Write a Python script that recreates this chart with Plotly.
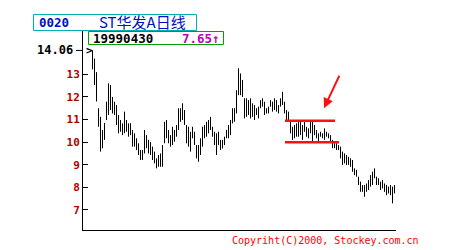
import plotly.graph_objects as go

# ---- data ----
highs = [14.07, 13.7, 13.1, 11.5, 11.12, 10.54, 10.85, 11.79, 12.6, 12.53, 12.0, 11.79, 11.64, 11.2, 10.98, 10.83, 11.35, 10.98, 10.83, 10.84,
         10.54, 10.39, 10.17, 9.95, 9.65, 9.65, 10.54, 10.31, 10.1, 10.0, 9.8, 9.58, 9.28, 9.43, 9.5, 9.87,
         10.9, 10.98, 10.54, 10.31, 10.68, 10.54, 10.76, 11.5, 11.5, 11.72, 11.42, 10.76, 10.68, 10.46, 10.68, 10.46, 9.87, 9.87, 10.17, 10.68,
         10.76, 10.9, 10.98, 11.12, 10.68, 10.46, 10.39, 10.46, 10.1, 10.1, 10.24, 10.54, 10.76, 10.98, 11.5, 11.5, 12.3, 13.27,
         13.04, 12.75, 11.94, 11.94, 11.86, 11.94, 11.72, 11.64, 11.5, 11.57, 11.86, 11.94, 11.79, 11.5, 11.57, 11.86, 11.79, 11.94, 11.86, 11.64,
         11.94, 12.23, 11.79, 11.42, 11.35, 10.98, 10.68, 10.76, 10.83, 10.9, 10.9, 10.76, 10.9, 10.68, 10.61, 10.9, 10.9, 10.76,
         10.54, 10.39, 10.46, 10.39, 10.61, 10.46, 10.39, 10.31, 10.1, 9.95, 9.95, 9.87, 9.8, 9.58, 9.5, 9.43, 9.35, 9.28, 9.21, 8.84,
         8.77, 8.47, 8.25, 8.1, 8.1, 8.17, 8.32, 8.54, 8.69, 8.84, 8.47, 8.4, 8.25, 8.32, 8.17, 8.1, 8.03, 8.1, 8.03, 8.1]
lows = [13.22, 12.53, 11.8, 10.68, 9.58, 9.73, 10.1, 10.98, 11.2, 11.42, 11.27, 11.2, 10.76, 10.39, 10.46, 10.31, 10.39, 10.46, 10.24, 10.31,
        9.8, 9.8, 9.65, 9.43, 9.21, 9.21, 9.5, 9.73, 9.5, 9.43, 9.21, 9.06, 8.84, 8.91, 8.91, 8.91,
        9.95, 10.17, 9.95, 9.8, 9.87, 10.02, 10.24, 10.54, 10.9, 10.98, 10.76, 9.95, 9.8, 9.58, 10.17, 9.87, 9.28, 9.13, 9.43, 9.8,
        10.17, 10.24, 10.39, 10.54, 10.24, 9.87, 9.43, 9.87, 9.65, 9.72, 9.87, 10.17, 10.17, 10.31, 10.83, 10.9, 11.27, 12.08,
        12.08, 12.0, 11.05, 11.12, 11.2, 11.05, 11.12, 10.98, 11.2, 11.05, 11.5, 11.57, 11.2, 11.27, 11.27, 11.57, 11.35, 11.42, 11.35, 11.27,
        11.57, 11.64, 11.27, 10.9, 10.9, 10.39, 10.1, 10.17, 10.24, 10.24, 10.31, 10.1, 10.46, 10.24, 10.17, 10.39, 10.02, 10.31,
        10.17, 10.02, 10.24, 10.17, 10.1, 10.24, 10.17, 10.02, 9.73, 9.73, 9.65, 9.65, 9.28, 8.99, 9.06, 8.99, 8.99, 8.91, 8.69, 8.54,
        8.47, 8.1, 7.8, 7.8, 7.58, 7.8, 7.88, 8.03, 8.1, 8.4, 8.1, 8.1, 7.88, 7.95, 7.8, 7.65, 7.73, 7.65, 7.29, 7.73]
y_ticks = [7, 8, 9, 10, 11, 12, 13]
y_tick_labels = ["7", "8", "9", "10", "11", "12", "13"]
top_price = 14.06
code = "0020"
name = "ST华发A日线"
last_date = "19990430"
last_price = "7.65↑"
resistance = 10.95
support = 10.0
box_start, box_end_top, box_end_bot = 96.25, 121.25, 123.25
copyright_text = "Copyriht(C)2000, Stockey.com.cn"

# ---- geometry ----
W, H = 450, 250
L, R, T, B = 83, 396, 31, 230
XR = [-4.75, 151.75]
YR = [6.11, 14.92]


def px(x):
    return (x - L) / (R - L)


def py(y):
    return (B - y) / (B - T)


xs, ys = [], []
for i, (h, lo) in enumerate(zip(highs, lows)):
    xs += [i, i, None]
    ys += [lo, h, None]

fig = go.Figure()
fig.add_trace(go.Scatter(x=xs, y=ys, mode="lines", line=dict(color="black", width=1),
                         hoverinfo="skip", showlegend=False))

mono = "DejaVu Sans Mono"
fig.update_layout(
    width=W, height=H,
    margin=dict(l=L, r=W - R, t=T, b=H - B, pad=0),
    paper_bgcolor="white", plot_bgcolor="white",
    showlegend=False,
    xaxis=dict(range=XR, showgrid=False, zeroline=False, showticklabels=False, ticks="",
               showline=True, linecolor="black", linewidth=1, fixedrange=True),
    yaxis=dict(range=YR, showgrid=False, zeroline=False, tickvals=y_ticks, ticktext=y_tick_labels,
               ticks="inside", ticklen=5, tickcolor="black", tickwidth=1,
               tickfont=dict(family=mono, size=11, color="#b00000", weight="bold"),
               showline=True, linecolor="black", linewidth=1, fixedrange=True),
)

shapes = []
# support / resistance lines
shapes.append(dict(type="line", xref="x", yref="y", x0=box_start, x1=box_end_top, y0=resistance, y1=resistance,
                   line=dict(color="#ff1010", width=2.5)))
shapes.append(dict(type="line", xref="x", yref="y", x0=box_start, x1=box_end_bot, y0=support, y1=support,
                   line=dict(color="#ff1010", width=2.5)))
# title boxes
shapes.append(dict(type="rect", xref="paper", yref="paper", x0=px(33.5), x1=px(196.5), y0=py(30.5), y1=py(14.5),
                   line=dict(color="#00b0b0", width=1)))
shapes.append(dict(type="rect", xref="paper", yref="paper", x0=px(88.5), x1=px(223.5), y0=py(44.5), y1=py(31.5),
                   line=dict(color="#00a000", width=1)))
# 14.06 tick
shapes.append(dict(type="line", xref="paper", yref="y", x0=px(76), x1=px(82.5), y0=top_price, y1=top_price,
                   line=dict(color="black", width=1)))
fig.update_layout(shapes=shapes)

ann = []
ann.append(dict(xref="paper", yref="y", x=px(74.5), y=top_price, text=str(top_price), showarrow=False,
                xanchor="right", yanchor="middle", font=dict(family=mono, size=12, color="black", weight="bold")))
ann.append(dict(xref="paper", yref="y", x=px(84), y=top_price, text="&gt;", showarrow=False,
                xanchor="left", yanchor="middle", font=dict(family=mono, size=11, color="black", weight="bold")))
ann.append(dict(xref="paper", yref="paper", x=px(37), y=py(22.5), text=code, showarrow=False,
                xanchor="left", yanchor="middle", font=dict(family=mono, size=12.5, color="#0010c0", weight="bold")))
ann.append(dict(xref="paper", yref="paper", x=px(97), y=py(22), text=name, showarrow=False,
                xanchor="left", yanchor="middle", font=dict(family="Noto Sans CJK SC", size=15, color="#0010c0")))
ann.append(dict(xref="paper", yref="paper", x=px(91), y=py(38), text=last_date, showarrow=False,
                xanchor="left", yanchor="middle", font=dict(family=mono, size=12.5, color="black", weight="bold")))
ann.append(dict(xref="paper", yref="paper", x=px(222), y=py(38), text=last_price, showarrow=False,
                xanchor="right", yanchor="middle", font=dict(family=mono, size=12.5, color="#c000c0", weight="bold")))
ann.append(dict(xref="paper", yref="paper", x=px(230), y=py(241), text=copyright_text, showarrow=False,
                xanchor="left", yanchor="middle", font=dict(family=mono, size=10, color="#ff0000")))
# arrow
ann.append(dict(xref="x", yref="y", x=115.75, y=11.5, text="", showarrow=True, ax=16, ay=-34,
                arrowhead=2, arrowsize=1, arrowwidth=2, arrowcolor="#ff1010"))
fig.update_layout(annotations=ann)

fig.write_html("out.html")
